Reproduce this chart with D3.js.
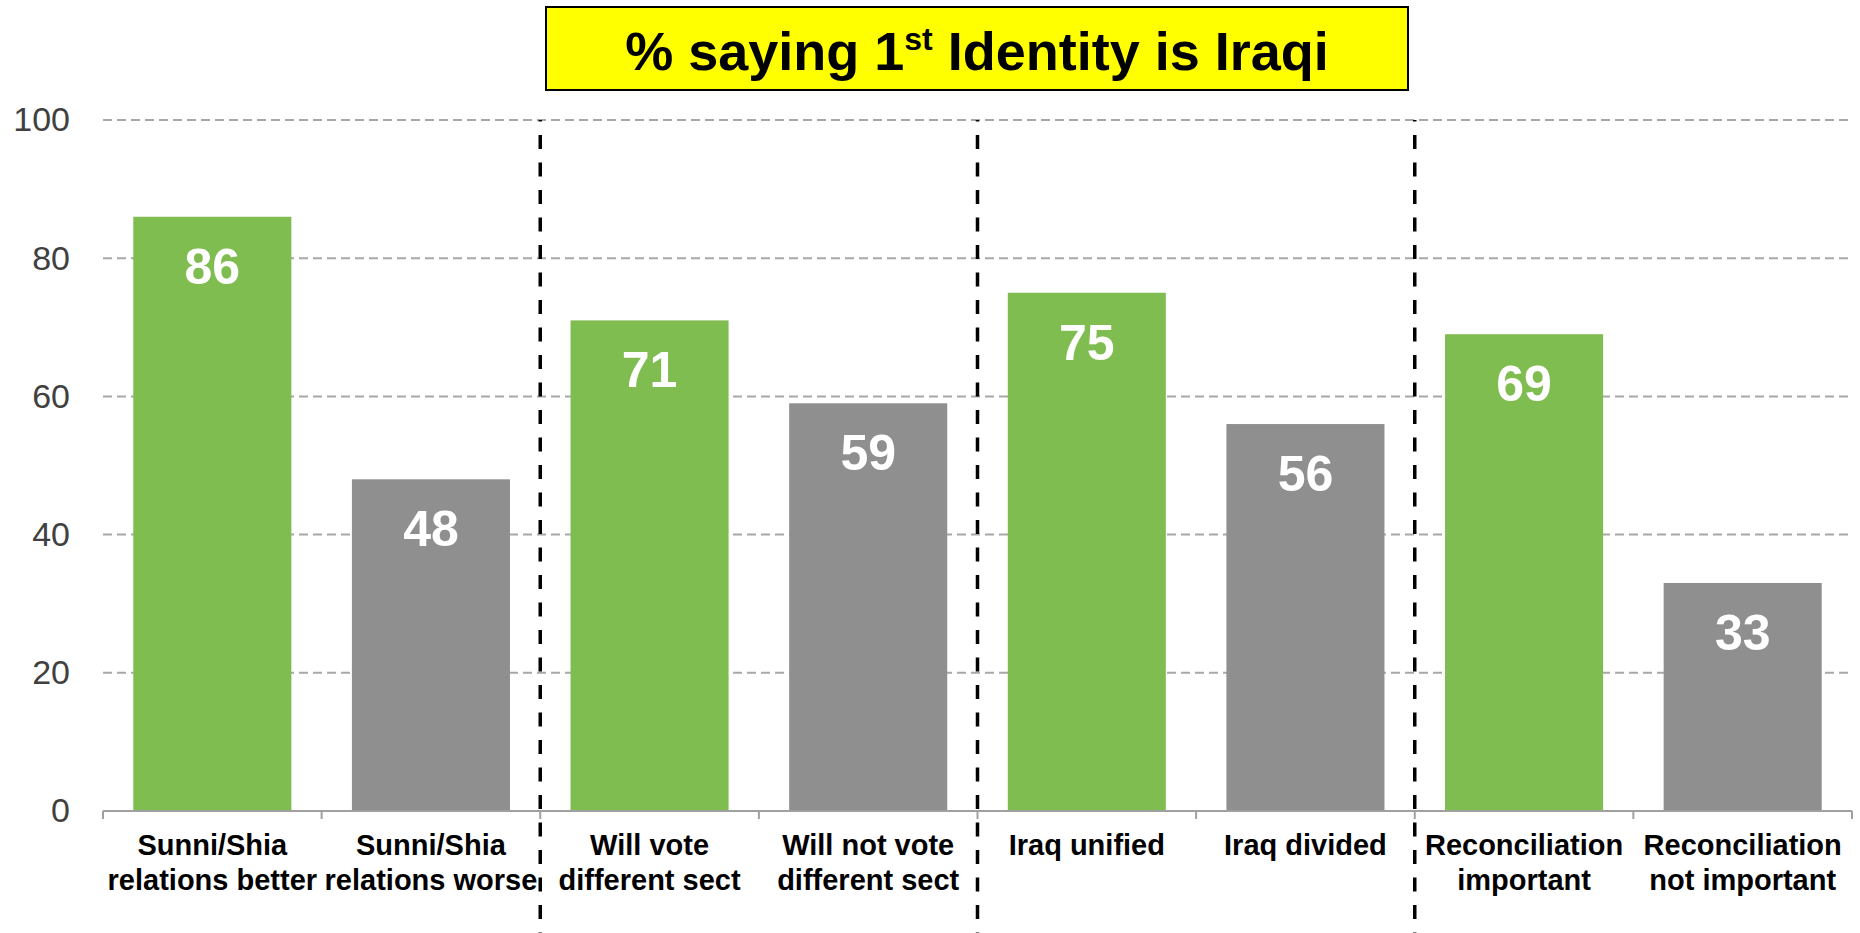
<!DOCTYPE html>
<html>
<head>
<meta charset="utf-8">
<script src="https://cdn.jsdelivr.net/npm/d3@7"></script>
<style>
  html, body { margin: 0; padding: 0; background: #fff; }
  svg { display: block; font-family: "Liberation Sans", Arial, sans-serif; }
</style>
</head>
<body>
<svg id="chart" width="1860" height="933"></svg>
<script>
// Survey results: share naming "Iraqi" as first identity, by opinion group
const categories = [
  "Sunni/Shia\nrelations better",
  "Sunni/Shia\nrelations worse",
  "Will vote\ndifferent sect",
  "Will not vote\ndifferent sect",
  "Iraq unified",
  "Iraq divided",
  "Reconciliation\nimportant",
  "Reconciliation\nnot important"
];
const values = [86, 48, 71, 59, 75, 56, 69, 33];
const groups = ["positive", "negative", "positive", "negative", "positive", "negative", "positive", "negative"];
const yTicks = [0, 20, 40, 60, 80, 100];
// Group separators fall after these category positions
const separatorsAfter = [2, 4, 6];

const colors = { positive: "#80BD50", negative: "#8F8F8F" };

const svg = d3.select("#chart");
const plotLeft = 103, plotRight = 1852, plotTop = 120, plotBottom = 811;

const pad = 0.277;
const x = d3.scaleBand().domain(categories).range([plotLeft, plotRight])
  .paddingInner(pad).paddingOuter(pad / 2);
const slot = d3.scaleBand().domain(categories).range([plotLeft, plotRight]).padding(0);
const y = d3.scaleLinear().domain([0, 100]).range([plotBottom, plotTop]);

// Horizontal dashed gridlines
svg.append("g").selectAll("line")
  .data(yTicks.filter(d => d > 0))
  .join("line")
  .attr("x1", plotLeft).attr("x2", plotRight)
  .attr("y1", d => y(d)).attr("y2", d => y(d))
  .attr("stroke", "#A8A8A8").attr("stroke-width", 2)
  .attr("stroke-dasharray", "9,5");

// Y axis labels
const yAxis = svg.append("g")
  .attr("transform", `translate(${plotLeft},0)`)
  .call(d3.axisLeft(y).tickValues(yTicks).tickSize(0).tickPadding(33));
yAxis.select(".domain").remove();
yAxis.selectAll("text")
  .attr("font-family", "Liberation Sans, Arial, sans-serif")
  .attr("font-size", 34).attr("fill", "#404040");

// Bars
svg.append("g").selectAll("rect")
  .data(categories)
  .join("rect")
  .attr("x", d => x(d))
  .attr("width", x.bandwidth())
  .attr("y", (d, i) => y(values[i]))
  .attr("height", (d, i) => y(0) - y(values[i]))
  .attr("fill", (d, i) => colors[groups[i]]);

// Value labels inside bars
svg.append("g").selectAll("text")
  .data(categories)
  .join("text")
  .attr("x", d => x(d) + x.bandwidth() / 2)
  .attr("y", (d, i) => y(values[i]) + 67)
  .attr("text-anchor", "middle")
  .attr("font-size", 50).attr("font-weight", "bold")
  .attr("fill", "#fff")
  .text((d, i) => values[i]);

// Baseline with category tick marks
const axisG = svg.append("g");
axisG.append("line")
  .attr("x1", plotLeft).attr("x2", plotRight)
  .attr("y1", plotBottom).attr("y2", plotBottom)
  .attr("stroke", "#A0A0A0").attr("stroke-width", 2);
const boundaries = categories.map(c => slot(c)).concat([plotRight]);
axisG.selectAll("line.tick")
  .data(boundaries)
  .join("line")
  .attr("class", "tick")
  .attr("x1", d => d).attr("x2", d => d)
  .attr("y1", plotBottom).attr("y2", plotBottom + 8)
  .attr("stroke", "#A0A0A0").attr("stroke-width", 2);

// Category labels (two lines)
const labels = svg.append("g").selectAll("text")
  .data(categories)
  .join("text")
  .attr("x", d => slot(d) + slot.bandwidth() / 2)
  .attr("y", 855)
  .attr("text-anchor", "middle")
  .attr("font-size", 29).attr("font-weight", "bold")
  .attr("fill", "#000");
labels.selectAll("tspan")
  .data(d => d.split("\n"))
  .join("tspan")
  .attr("x", function () { return d3.select(this.parentNode).attr("x"); })
  .attr("dy", (d, i) => i === 0 ? 0 : 35)
  .text(d => d);

// Vertical dashed group separators
svg.append("g").selectAll("line")
  .data(separatorsAfter)
  .join("line")
  .attr("x1", i => slot(categories[i]))
  .attr("x2", i => slot(categories[i]))
  .attr("y1", plotTop).attr("y2", 933)
  .attr("stroke", "#000").attr("stroke-width", 3.5)
  .attr("stroke-dasharray", "14,13.5")
  .attr("stroke-dashoffset", 12.5);

// Title box
const title = svg.append("g");
title.append("rect")
  .attr("x", 546).attr("y", 7).attr("width", 862).attr("height", 83)
  .attr("fill", "#FFFF00").attr("stroke", "#000").attr("stroke-width", 2);
const tt = title.append("text")
  .attr("x", 977).attr("y", 70)
  .attr("text-anchor", "middle")
  .attr("font-size", 54).attr("font-weight", "bold").attr("fill", "#000");
tt.append("tspan").text("% saying 1");
tt.append("tspan").attr("font-size", 32).attr("dy", -20).text("st");
tt.append("tspan").attr("dy", 20).text(" Identity is Iraqi");
</script>
</body>
</html>
